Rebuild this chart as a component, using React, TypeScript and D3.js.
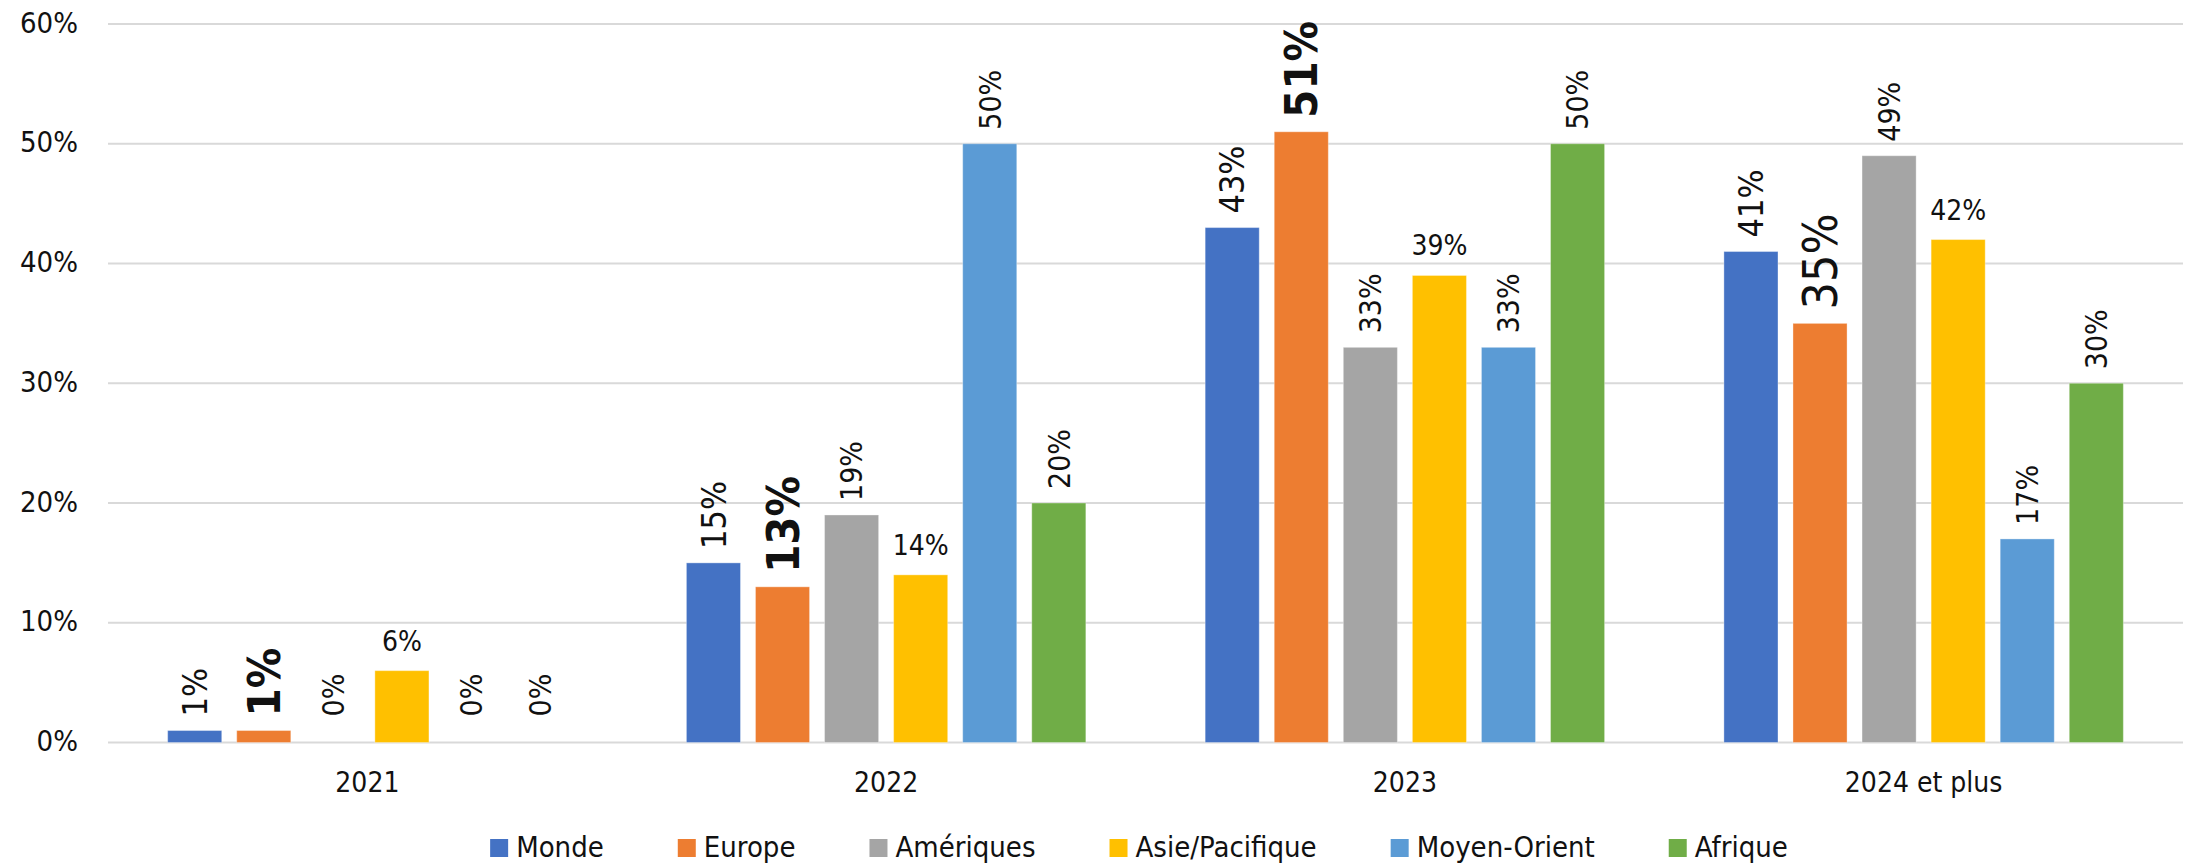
import React, { useEffect, useRef } from "react";
import * as d3 from "d3";

const categories = ["2021", "2022", "2023", "2024 et plus"];
const seriesNames = ["Monde", "Europe", "Amériques", "Asie/Pacifique", "Moyen-Orient", "Afrique"];
const seriesColors = ["#4472C4", "#ED7D31", "#A5A5A5", "#FFC000", "#5B9BD5", "#70AD47"];
const monde = [0.01, 0.15, 0.43, 0.41];
const europe = [0.01, 0.13, 0.51, 0.35];
const ameriques = [0.0, 0.19, 0.33, 0.49];
const asiePacifique = [0.06, 0.14, 0.39, 0.42];
const moyenOrient = [0.0, 0.5, 0.33, 0.17];
const afrique = [0.0, 0.2, 0.5, 0.3];
const yTicks = [0, 0.1, 0.2, 0.3, 0.4, 0.5, 0.6];

const W = 2193;
const H = 864;
const FONT = "'DejaVu Sans Condensed', 'DejaVu Sans', sans-serif";
const TEXT = "#111";

export default function App() {
  const ref = useRef<SVGSVGElement>(null);

  useEffect(() => {
    document.body.style.margin = "0";
    document.body.style.overflow = "hidden";
    const svg = d3.select(ref.current);
    svg.selectAll("*").remove();

    const values = [monde, europe, ameriques, asiePacifique, moyenOrient, afrique];
    const left = 108, right = 2183, top = 24, bottom = 742.5;

    const y = d3.scaleLinear().domain([0, 0.6]).range([bottom, top]);
    const x0 = d3.scaleBand<string>().domain(categories).range([left, right]).padding(0);
    const bw = x0.bandwidth();
    const outer = bw * 0.115;
    const x1 = d3.scaleBand<string>().domain(seriesNames).range([outer, bw - outer]).paddingInner(0.217).paddingOuter(0);
    const fmt = d3.format(".0%");

    // grid
    const g = svg.append("g").attr("font-family", FONT).attr("fill", TEXT);
    g.selectAll("line.grid").data(yTicks).enter().append("line")
      .attr("x1", left).attr("x2", right)
      .attr("y1", d => y(d)).attr("y2", d => y(d))
      .attr("stroke", "#d9d9d9").attr("stroke-width", 2);
    g.selectAll("text.ytick").data(yTicks).enter().append("text")
      .attr("x", 78).attr("y", d => y(d)).attr("dy", "0.30em")
      .attr("text-anchor", "end").attr("font-size", 29).attr("font-stretch", "condensed")
      .text(d => fmt(d));

    // category labels
    g.selectAll("text.cat").data(categories).enter().append("text")
      .attr("x", d => (x0(d) as number) + bw / 2).attr("y", 792)
      .attr("text-anchor", "middle").attr("font-size", 28).attr("font-stretch", "condensed")
      .text(d => d);

    // bars + labels
    categories.forEach((cat, ci) => {
      const gx = x0(cat) as number;
      seriesNames.forEach((s, si) => {
        const v = values[si][ci];
        const bx = gx + (x1(s) as number);
        const w = x1.bandwidth();
        if (v > 0) {
          g.append("rect")
            .attr("x", bx).attr("y", y(v))
            .attr("width", w).attr("height", y(0) - y(v))
            .attr("fill", seriesColors[si])
            .attr("stroke", "rgba(255,255,255,0.35)").attr("stroke-width", 1);
        }
        const cx = bx + w / 2;
        const label = fmt(v);
        if (si === 3) {
          g.append("text")
            .attr("x", cx).attr("y", y(v) - 20)
            .attr("text-anchor", "middle").attr("font-size", 28).attr("font-stretch", "condensed")
            .text(label);
        } else {
          const base = Math.min(y(v), y(0) - 12) - 14;
          let size = 30;
          let weight: string = "normal";
          if (si === 0) size = 34;
          if (si === 1) {
            size = ci === 3 ? 48 : 45;
            weight = ci === 3 ? "normal" : "bold";
          }
          g.append("text")
            .attr("transform", `translate(${cx},${base}) rotate(-90)`)
            .attr("dy", "0.36em")
            .attr("text-anchor", "start")
            .attr("font-size", size).attr("font-weight", weight).attr("font-stretch", "condensed")
            .text(label);
        }
      });
    });

    // legend
    const lg = svg.append("g").attr("font-family", FONT).attr("fill", TEXT);
    const items = seriesNames.map((name, i) => {
      const t = lg.append("text").attr("font-size", 29).attr("font-stretch", "condensed").attr("y", 857).text(name);
      const wText = (t.node() as SVGTextElement).getComputedTextLength();
      return { t, wText, i };
    });
    const sw = 18, gapST = 8, gapItem = 74;
    const total = items.reduce((acc, it) => acc + sw + gapST + it.wText, 0) + gapItem * (items.length - 1);
    let cur = 1139 - total / 2;
    items.forEach(it => {
      lg.append("rect").attr("x", cur).attr("y", 839).attr("width", sw).attr("height", sw).attr("fill", seriesColors[it.i]);
      it.t.attr("x", cur + sw + gapST);
      cur += sw + gapST + it.wText + gapItem;
    });
  }, []);

  return (
    <svg ref={ref} width={W} height={H} viewBox={`0 0 ${W} ${H}`}
      style={{ position: "absolute", left: 0, top: 0, display: "block", background: "#fff" }} />
  );
}
